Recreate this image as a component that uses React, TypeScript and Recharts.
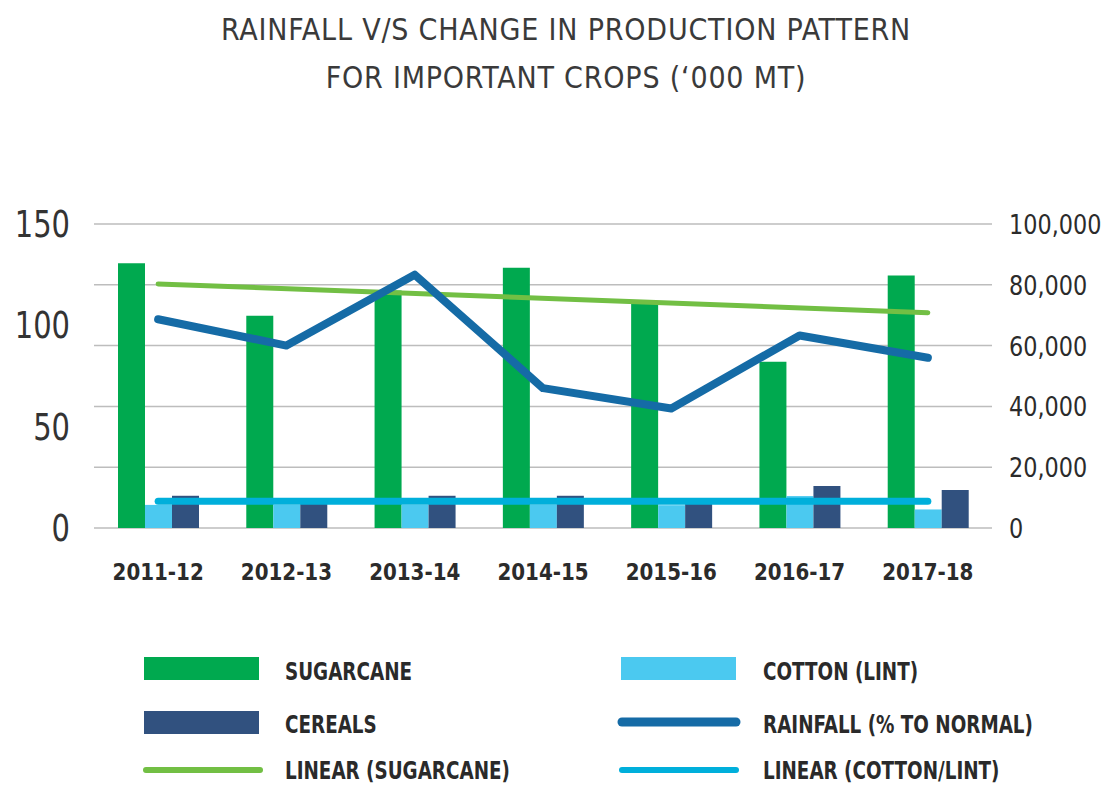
import { ComposedChart, Bar, Line, XAxis, YAxis, CartesianGrid } from "recharts";

// values ('000 MT, rainfall in % of normal)
const years = ["2011-12", "2012-13", "2013-14", "2014-15", "2015-16", "2016-17", "2017-18"];
const sugarcane = [87100, 69800, 78100, 85600, 74700, 54700, 83100];
const cotton = [7600, 7600, 7600, 7600, 7500, 10500, 6100];
const cereals = [10600, 9000, 10600, 10600, 9000, 13800, 12500];
const rainfall = [103, 90, 125, 69, 59, 95, 84];
// excel trend lines, only the two end points (joined with connectNulls)
const sugarcaneTrend = [80300, null, null, null, null, null, 70800];
const cottonTrend = [8800, null, null, null, null, null, 8800];

const leftTicks = [0, 50, 100, 150];
const rightTicks = [0, 20000, 40000, 60000, 80000, 100000];

const COLORS = {
  sugarcane: "#00a94f",
  cotton: "#4bc9f0",
  cereals: "#31517f",
  rainfall: "#156ba6",
  sugarTrend: "#72bf44",
  cottonTrend: "#00afdb",
};

const FONT = '"DejaVu Sans Condensed", "DejaVu Sans", sans-serif';

const data = years.map((y, i) => ({
  year: y,
  sugarcane: sugarcane[i],
  cotton: cotton[i],
  cereals: cereals[i],
  rainfall: rainfall[i],
  sugarTrend: sugarcaneTrend[i],
  cottonTrend: cottonTrend[i],
}));

// the original uses a tall, narrow DIN-like face, so squeeze the text horizontally
const Txt = ({ x, y, sx = 1, anchor = "start", children, ...rest }: any) => (
  <g transform={`translate(${x},${y}) scale(${sx},1)`}>
    <text x={0} y={0} textAnchor={anchor} fontFamily={FONT} {...rest}>
      {children}
    </text>
  </g>
);

const LeftTick = ({ x, y, payload }: any) => (
  <Txt x={x} y={y + 13} sx={0.87} anchor="end" fontSize={37} fill="#333">
    {payload.value}
  </Txt>
);

const RightTick = ({ x, y, payload }: any) => (
  <Txt x={x} y={y + 10} sx={0.92} fontSize={27} fill="#2b2b2b">
    {payload.value.toLocaleString("en-US")}
  </Txt>
);

const YearTick = ({ x, y, payload }: any) => (
  <Txt x={x} y={y + 52} sx={0.96} anchor="middle" fontSize={23} fontWeight="bold" fill="#2b2b2b">
    {payload.value}
  </Txt>
);

const legendText = { sx: 0.85, fontSize: 24, fontWeight: "bold", fill: "#2a2a2a" };

export default function App() {
  return (
    <div style={{ position: "relative", width: 1104, height: 785, background: "#fff" }}>
      <style>{`body { margin: 0; }`}</style>

      <ComposedChart
        width={1104}
        height={600}
        data={data}
        margin={{ top: 224, right: 0, bottom: 22, left: 0 }}
        barGap={0}
        barSize={27}
      >
        <CartesianGrid yAxisId="right" vertical={false} stroke="#bdbdbd" strokeWidth={1.5} />
        <XAxis dataKey="year" height={50} axisLine={false} tickLine={false} tickSize={0} tickMargin={0} tick={<YearTick />} interval={0} />
        <YAxis
          yAxisId="left"
          orientation="left"
          width={94}
          domain={[0, 150]}
          ticks={leftTicks}
          axisLine={false}
          tickLine={false}
          tickSize={0}
          tickMargin={24}
          tick={<LeftTick />}
        />
        <YAxis
          yAxisId="right"
          orientation="right"
          width={112}
          domain={[0, 100000]}
          ticks={rightTicks}
          axisLine={false}
          tickLine={false}
          tickSize={0}
          tickMargin={17}
          tick={<RightTick />}
        />
        <Bar yAxisId="right" dataKey="sugarcane" fill={COLORS.sugarcane} isAnimationActive={false} />
        <Bar yAxisId="right" dataKey="cotton" fill={COLORS.cotton} isAnimationActive={false} />
        <Bar yAxisId="right" dataKey="cereals" fill={COLORS.cereals} isAnimationActive={false} />
        <Line yAxisId="right" dataKey="sugarTrend" type="linear" stroke={COLORS.sugarTrend} strokeWidth={5} dot={false} connectNulls strokeLinecap="round" isAnimationActive={false} />
        <Line yAxisId="left" dataKey="rainfall" type="linear" stroke={COLORS.rainfall} strokeWidth={8} dot={false} strokeLinecap="round" strokeLinejoin="round" isAnimationActive={false} />
        <Line yAxisId="right" dataKey="cottonTrend" type="linear" stroke={COLORS.cottonTrend} strokeWidth={7} dot={false} connectNulls strokeLinecap="round" isAnimationActive={false} />
      </ComposedChart>

      {/* title + legend overlay */}
      <svg width={1104} height={785} style={{ position: "absolute", left: 0, top: 0, pointerEvents: "none" }}>
        <Txt x={566} y={40} anchor="middle" fontSize={30} fill="#3a3a3a" letterSpacing={0.8}>
          RAINFALL V/S CHANGE IN PRODUCTION PATTERN
        </Txt>
        <Txt x={566} y={88} anchor="middle" fontSize={30} fill="#3a3a3a" letterSpacing={0.8}>
          FOR IMPORTANT CROPS (‘000 MT)
        </Txt>

        <rect x={144} y={657} width={115} height={23} fill={COLORS.sugarcane} />
        <Txt x={285} y={680} {...legendText}>SUGARCANE</Txt>
        <rect x={621} y={657} width={115} height={23} fill={COLORS.cotton} />
        <Txt x={763} y={680} {...legendText}>COTTON (LINT)</Txt>

        <rect x={144} y={711} width={115} height={23} fill={COLORS.cereals} />
        <Txt x={285} y={733} {...legendText}>CEREALS</Txt>
        <line x1={622} y1={722} x2={736} y2={722} stroke={COLORS.rainfall} strokeWidth={9} strokeLinecap="round" />
        <Txt x={763} y={733} {...legendText}>RAINFALL (% TO NORMAL)</Txt>

        <line x1={146} y1={770} x2={260} y2={770} stroke={COLORS.sugarTrend} strokeWidth={6} strokeLinecap="round" />
        <Txt x={285} y={779} {...legendText}>LINEAR (SUGARCANE)</Txt>
        <line x1={622} y1={770} x2={736} y2={770} stroke={COLORS.cottonTrend} strokeWidth={6} strokeLinecap="round" />
        <Txt x={763} y={779} {...legendText}>LINEAR (COTTON/LINT)</Txt>
      </svg>
    </div>
  );
}
